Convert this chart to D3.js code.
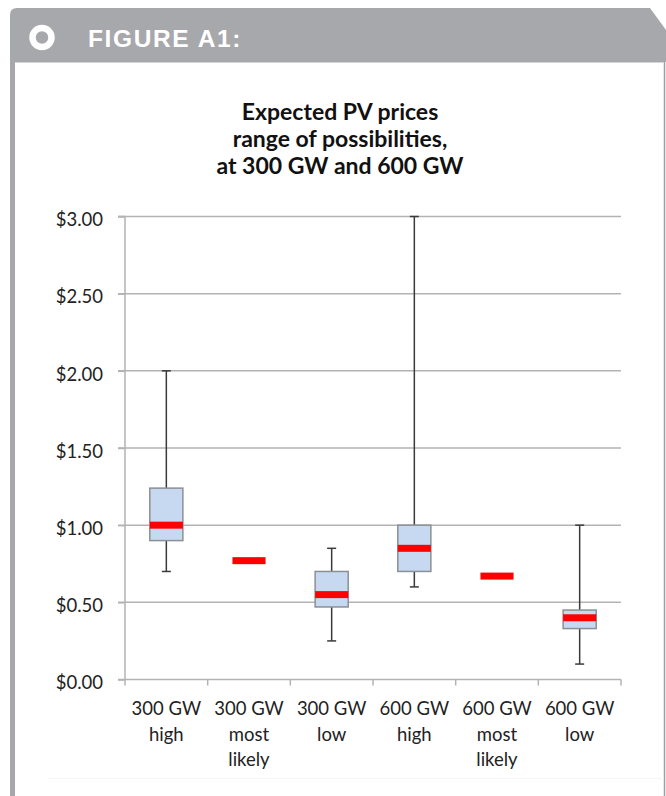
<!DOCTYPE html>
<html>
<head>
<meta charset="utf-8">
<script src="https://cdn.jsdelivr.net/npm/d3@7"></script>
<style>
  html, body { margin: 0; padding: 0; background: #fff; }
  svg { display: block; }
</style>
</head>
<body>
<svg id="chart" width="666" height="796"></svg>
<script>
// ---- data ----
const categories = [
  ["300 GW", "high"],
  ["300 GW", "most", "likely"],
  ["300 GW", "low"],
  ["600 GW", "high"],
  ["600 GW", "most", "likely"],
  ["600 GW", "low"]
];
const whiskerLow  = [0.70, null, 0.25, 0.60, null, 0.10];
const boxLow      = [0.90, null, 0.47, 0.70, null, 0.33];
const medians     = [1.00, 0.77, 0.55, 0.85, 0.67, 0.40];
const boxHigh     = [1.24, null, 0.70, 1.00, null, 0.45];
const whiskerHigh = [2.00, null, 0.85, 3.00, null, 1.00];
const yTicks = [0, 0.5, 1.0, 1.5, 2.0, 2.5, 3.0];
const yTickLabels = ["$0.00", "$0.50", "$1.00", "$1.50", "$2.00", "$2.50", "$3.00"];
const titleLines = ["Expected PV prices", "range of possibilities,", "at 300 GW and 600 GW"];
const headerText = "FIGURE A1:";

const svg = d3.select("#chart");
const gray = "#a7a8ab";

// ---- frame / header ----
svg.append("path")
  .attr("d", "M10,62 L10,15 Q10,8 17,8 L650,8 L666,30 L666,62 Z")
  .attr("fill", gray);
svg.append("rect").attr("x", 10).attr("y", 62).attr("width", 5).attr("height", 734).attr("fill", gray);
svg.append("line").attr("x1", 664.5).attr("x2", 664.5).attr("y1", 62).attr("y2", 796)
  .attr("stroke", "#9d9ea1").attr("stroke-width", 1.5);
svg.append("line").attr("x1", 15).attr("x2", 664).attr("y1", 62.5).attr("y2", 62.5)
  .attr("stroke", "#d4d5d7").attr("stroke-width", 1);
svg.append("line").attr("x1", 48).attr("x2", 664).attr("y1", 778.5).attr("y2", 778.5)
  .attr("stroke", "#f6f6f6").attr("stroke-width", 1);
svg.append("circle").attr("cx", 42).attr("cy", 37.5).attr("r", 9.5)
  .attr("fill", "none").attr("stroke", "#fff").attr("stroke-width", 6.5);
svg.append("text").attr("x", 88).attr("y", 47)
  .attr("font-family", "'Liberation Sans', Arial, sans-serif")
  .attr("font-weight", "bold").attr("font-size", 24.5)
  .attr("letter-spacing", 1.6)
  .attr("fill", "#fff").text(headerText);

// ---- title ----
const title = svg.append("g")
  .attr("text-anchor", "middle")
  .attr("font-family", "Lato, sans-serif")
  .attr("font-weight", "bold").attr("font-size", 23)
  .attr("fill", "#111");
titleLines.forEach((t, i) => {
  title.append("text").attr("x", 340).attr("y", 120 + i * 27).text(t);
});

// ---- scales ----
const x = d3.scaleBand().domain(d3.range(categories.length)).range([125, 621]).padding(0);
const y = d3.scaleLinear().domain([0, 3]).range([679.5, 216.5]);
const axisColor = "#b3b3b3";

// gridlines
svg.append("g").selectAll("line").data(yTicks.filter(d => d > 0)).join("line")
  .attr("x1", 118).attr("x2", 621)
  .attr("y1", d => y(d)).attr("y2", d => y(d))
  .attr("stroke", axisColor).attr("stroke-width", 1.5);

// y axis
const yAxis = d3.axisLeft(y).tickValues(yTicks)
  .tickFormat((d, i) => yTickLabels[i]).tickSize(7).tickPadding(15);
const gy = svg.append("g").attr("transform", "translate(125,0)").call(yAxis);
gy.select(".domain").attr("stroke", axisColor).attr("stroke-width", 1.5).attr("d", `M-7,${y(3)}H0V${y(0)}H-7`);
gy.selectAll(".tick line").attr("stroke", axisColor).attr("stroke-width", 1.5);
gy.selectAll(".tick text")
  .attr("font-family", "Lato, sans-serif").attr("font-size", 18.5)
  .attr("fill", "#222").attr("dy", "0.5em");

// x axis
const xAxis = d3.axisBottom(x).tickSize(0).tickFormat("");
const gx = svg.append("g").attr("transform", `translate(0,${y(0)})`).call(xAxis);
gx.select(".domain").attr("stroke", axisColor).attr("stroke-width", 1.5).attr("d", "M125,0H621");
const bounds = d3.range(categories.length + 1).map(i => 125 + i * x.bandwidth());
gx.append("g").selectAll("line").data(bounds).join("line")
  .attr("x1", d => d).attr("x2", d => d).attr("y1", 0).attr("y2", 6)
  .attr("stroke", axisColor).attr("stroke-width", 1.5);

// x labels
const labels = svg.append("g")
  .attr("font-family", "Lato, sans-serif").attr("font-size", 18.5)
  .attr("fill", "#222").attr("text-anchor", "middle");
categories.forEach((lines, i) => {
  const t = labels.append("text");
  lines.forEach((l, j) => {
    t.append("tspan").attr("x", x(i) + x.bandwidth() / 2).attr("y", 715 + j * 25.5).text(l);
  });
});

// ---- boxes ----
const bw = x.bandwidth() * 0.4;
const capW = 9;
const whiskColor = "#3a3a3a";
const g = svg.append("g");
categories.forEach((c, i) => {
  const cx = x(i) + x.bandwidth() / 2;
  if (boxLow[i] != null) {
    g.append("line").attr("x1", cx).attr("x2", cx)
      .attr("y1", y(whiskerHigh[i])).attr("y2", y(boxHigh[i]))
      .attr("stroke", whiskColor).attr("stroke-width", 1.5);
    g.append("line").attr("x1", cx).attr("x2", cx)
      .attr("y1", y(boxLow[i])).attr("y2", y(whiskerLow[i]))
      .attr("stroke", whiskColor).attr("stroke-width", 1.5);
    [whiskerHigh[i], whiskerLow[i]].forEach(v => {
      g.append("line").attr("x1", cx - capW / 2).attr("x2", cx + capW / 2)
        .attr("y1", y(v)).attr("y2", y(v))
        .attr("stroke", whiskColor).attr("stroke-width", 1.5);
    });
    g.append("rect").attr("x", cx - bw / 2).attr("width", bw)
      .attr("y", y(boxHigh[i])).attr("height", y(boxLow[i]) - y(boxHigh[i]))
      .attr("fill", "#c6d9f1").attr("stroke", "#8c8f94").attr("stroke-width", 1.5);
  }
  g.append("rect").attr("x", cx - bw / 2).attr("width", bw)
    .attr("y", y(medians[i]) - 3.5).attr("height", 7)
    .attr("fill", "#ff0000");
});
</script>
</body>
</html>
